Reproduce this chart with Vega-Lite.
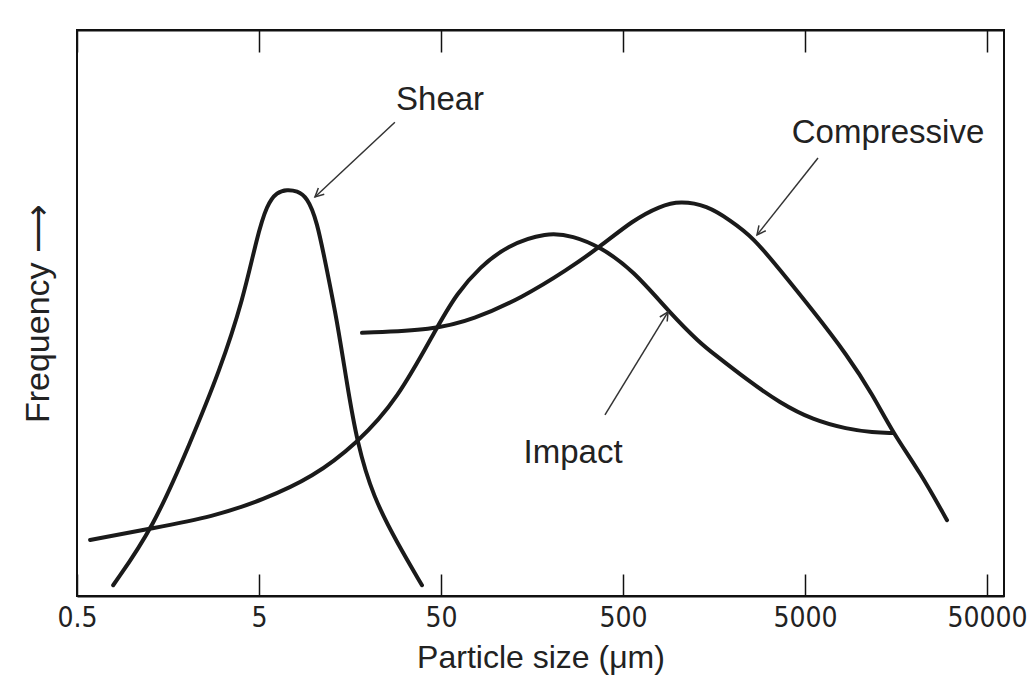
{
  "$schema": "https://vega.github.io/schema/vega-lite/v6.json",
  "width": 927,
  "height": 566,
  "autosize": {"type": "none"},
  "padding": {"left": 77, "top": 30, "right": 29, "bottom": 103},
  "background": "white",
  "config": {
    "view": {"stroke": "#111", "strokeWidth": 2},
    "font": "Liberation Sans"
  },
  "datasets": {
    "curves": [
      {"curve": "Shear", "size": 0.79, "freq": 1.9},
      {"curve": "Shear", "size": 1.31, "freq": 12.0},
      {"curve": "Shear", "size": 2.09, "freq": 27.0},
      {"curve": "Shear", "size": 3.05, "freq": 39.9},
      {"curve": "Shear", "size": 4.08, "freq": 52.3},
      {"curve": "Shear", "size": 4.87, "freq": 63.4},
      {"curve": "Shear", "size": 5.53, "freq": 69.2},
      {"curve": "Shear", "size": 6.28, "freq": 71.4},
      {"curve": "Shear", "size": 7.13, "freq": 71.8},
      {"curve": "Shear", "size": 8.09, "freq": 71.6},
      {"curve": "Shear", "size": 9.18, "freq": 70.5},
      {"curve": "Shear", "size": 10.4, "freq": 66.4},
      {"curve": "Shear", "size": 11.8, "freq": 57.6},
      {"curve": "Shear", "size": 13.4, "freq": 48.8},
      {"curve": "Shear", "size": 15.2, "freq": 37.6},
      {"curve": "Shear", "size": 17.3, "freq": 27.0},
      {"curve": "Shear", "size": 21.2, "freq": 17.5},
      {"curve": "Shear", "size": 28.7, "freq": 9.4},
      {"curve": "Shear", "size": 39.3, "freq": 1.9},
      {"curve": "Impact", "size": 0.59, "freq": 9.9},
      {"curve": "Impact", "size": 1.31, "freq": 12.0},
      {"curve": "Impact", "size": 2.79, "freq": 14.0},
      {"curve": "Impact", "size": 5.26, "freq": 17.0},
      {"curve": "Impact", "size": 9.9, "freq": 21.0},
      {"curve": "Impact", "size": 17.3, "freq": 27.0},
      {"curve": "Impact", "size": 28.7, "freq": 34.6},
      {"curve": "Impact", "size": 47.5, "freq": 47.5},
      {"curve": "Impact", "size": 61.2, "freq": 53.5},
      {"curve": "Impact", "size": 81.9, "freq": 58.1},
      {"curve": "Impact", "size": 115, "freq": 61.9},
      {"curve": "Impact", "size": 191, "freq": 64.3},
      {"curve": "Impact", "size": 266, "freq": 63.6},
      {"curve": "Impact", "size": 374, "freq": 61.7},
      {"curve": "Impact", "size": 567, "freq": 57.6},
      {"curve": "Impact", "size": 906, "freq": 50.0},
      {"curve": "Impact", "size": 1325, "freq": 44.7},
      {"curve": "Impact", "size": 1561, "freq": 42.9},
      {"curve": "Impact", "size": 2400, "freq": 38.2},
      {"curve": "Impact", "size": 3645, "freq": 34.1},
      {"curve": "Impact", "size": 5533, "freq": 31.1},
      {"curve": "Impact", "size": 8508, "freq": 29.5},
      {"curve": "Impact", "size": 11820, "freq": 28.9},
      {"curve": "Impact", "size": 15225, "freq": 28.8},
      {"curve": "Compressive", "size": 18.4, "freq": 46.5},
      {"curve": "Compressive", "size": 45.2, "freq": 47.0},
      {"curve": "Compressive", "size": 75.0, "freq": 48.8},
      {"curve": "Compressive", "size": 141, "freq": 52.8},
      {"curve": "Compressive", "size": 246, "freq": 57.6},
      {"curve": "Compressive", "size": 374, "freq": 61.7},
      {"curve": "Compressive", "size": 567, "freq": 66.4},
      {"curve": "Compressive", "size": 799, "freq": 68.9},
      {"curve": "Compressive", "size": 1029, "freq": 69.8},
      {"curve": "Compressive", "size": 1447, "freq": 69.0},
      {"curve": "Compressive", "size": 1936, "freq": 66.4},
      {"curve": "Compressive", "size": 2589, "freq": 63.4},
      {"curve": "Compressive", "size": 3645, "freq": 57.6},
      {"curve": "Compressive", "size": 5533, "freq": 50.4},
      {"curve": "Compressive", "size": 8508, "freq": 42.6},
      {"curve": "Compressive", "size": 11820, "freq": 35.5},
      {"curve": "Compressive", "size": 15225, "freq": 28.8},
      {"curve": "Compressive", "size": 21420, "freq": 21.9},
      {"curve": "Compressive", "size": 30150, "freq": 13.4}
    ],
    "arrows": [
      {"name": "Shear", "size": 27.9, "freq": 83.7, "size2": 10.15, "freq2": 70.5},
      {"name": "Compressive", "size": 5894, "freq": 77.4, "size2": 2725, "freq2": 63.8},
      {"name": "Impact", "size": 398, "freq": 32.0, "size2": 884, "freq2": 50.2}
    ],
    "labels": [
      {"name": "Shear", "size": 49.4, "freq": 87.6},
      {"name": "Compressive", "size": 14290, "freq": 81.8},
      {"name": "Impact", "size": 266, "freq": 25.3}
    ]
  },
  "layer": [
    {
      "data": {"name": "curves"},
      "mark": {"type": "line", "interpolate": "basis", "color": "#1a1a1a", "strokeWidth": 4, "strokeCap": "round"},
      "encoding": {
        "x": {
          "field": "size", "type": "quantitative",
          "scale": {"type": "log", "domain": [0.5, 62000], "nice": false},
          "axis": {
            "orient": "bottom",
            "values": [0.5, 5, 50, 500, 5000, 50000],
            "format": "~g",
            "title": "Particle size (μm)",
            "grid": false,
            "domainColor": "#111", "domainWidth": 2,
            "tickColor": "#111", "tickWidth": 1.5, "tickSize": -22,
            "labelPadding": 30, "labelFontSize": 28, "labelColor": "#222",
            "labelFont": "DejaVu Sans Condensed, Liberation Sans",
            "labelFlush": false,
            "titleFontSize": 32, "titleFontWeight": "normal", "titleColor": "#222",
            "titlePadding": 10
          }
        },
        "y": {
          "field": "freq", "type": "quantitative",
          "scale": {"domain": [0, 100], "nice": false},
          "axis": {
            "title": "Frequency ⟶",
            "labels": false, "ticks": false, "domain": false, "grid": false,
            "titleFontSize": 34, "titleFontWeight": "normal", "titleColor": "#222",
            "titlePadding": 22
          }
        },
        "detail": {"field": "curve"}
      }
    },
    {
      "data": {"name": "arrows"},
      "mark": {"type": "rule", "color": "#333", "strokeWidth": 1.5},
      "encoding": {
        "x": {"field": "size", "type": "quantitative", "axis": null},
        "y": {"field": "freq", "type": "quantitative"},
        "x2": {"field": "size2"},
        "y2": {"field": "freq2"}
      }
    },
    {
      "data": {"name": "arrows"},
      "transform": [{"filter": "datum.name === 'Shear'"}],
      "mark": {"type": "point", "shape": "M-0.5,1L0,0L0.5,1", "filled": false, "stroke": "#333", "strokeWidth": 1.5, "size": 300, "angle": 227, "opacity": 1},
      "encoding": {
        "x": {"field": "size2", "type": "quantitative", "axis": null},
        "y": {"field": "freq2", "type": "quantitative"}
      }
    },
    {
      "data": {"name": "arrows"},
      "transform": [{"filter": "datum.name === 'Compressive'"}],
      "mark": {"type": "point", "shape": "M-0.5,1L0,0L0.5,1", "filled": false, "stroke": "#333", "strokeWidth": 1.5, "size": 300, "angle": 218, "opacity": 1},
      "encoding": {
        "x": {"field": "size2", "type": "quantitative", "axis": null},
        "y": {"field": "freq2", "type": "quantitative"}
      }
    },
    {
      "data": {"name": "arrows"},
      "transform": [{"filter": "datum.name === 'Impact'"}],
      "mark": {"type": "point", "shape": "M-0.5,1L0,0L0.5,1", "filled": false, "stroke": "#333", "strokeWidth": 1.5, "size": 300, "angle": 31.5, "opacity": 1},
      "encoding": {
        "x": {"field": "size2", "type": "quantitative", "axis": null},
        "y": {"field": "freq2", "type": "quantitative"}
      }
    },
    {
      "data": {"name": "labels"},
      "mark": {"type": "text", "fontSize": 33, "color": "#222", "align": "center", "baseline": "middle"},
      "encoding": {
        "x": {
          "field": "size", "type": "quantitative",
          "axis": {
            "orient": "top",
            "values": [0.5, 5, 50, 500, 5000, 50000],
            "labels": false, "title": null, "grid": false,
            "domainColor": "#111", "domainWidth": 2,
            "tickColor": "#111", "tickWidth": 1.5, "tickSize": -22
          }
        },
        "y": {"field": "freq", "type": "quantitative"},
        "text": {"field": "name"}
      }
    }
  ],
  "resolve": {"axis": {"x": "independent"}}
}
